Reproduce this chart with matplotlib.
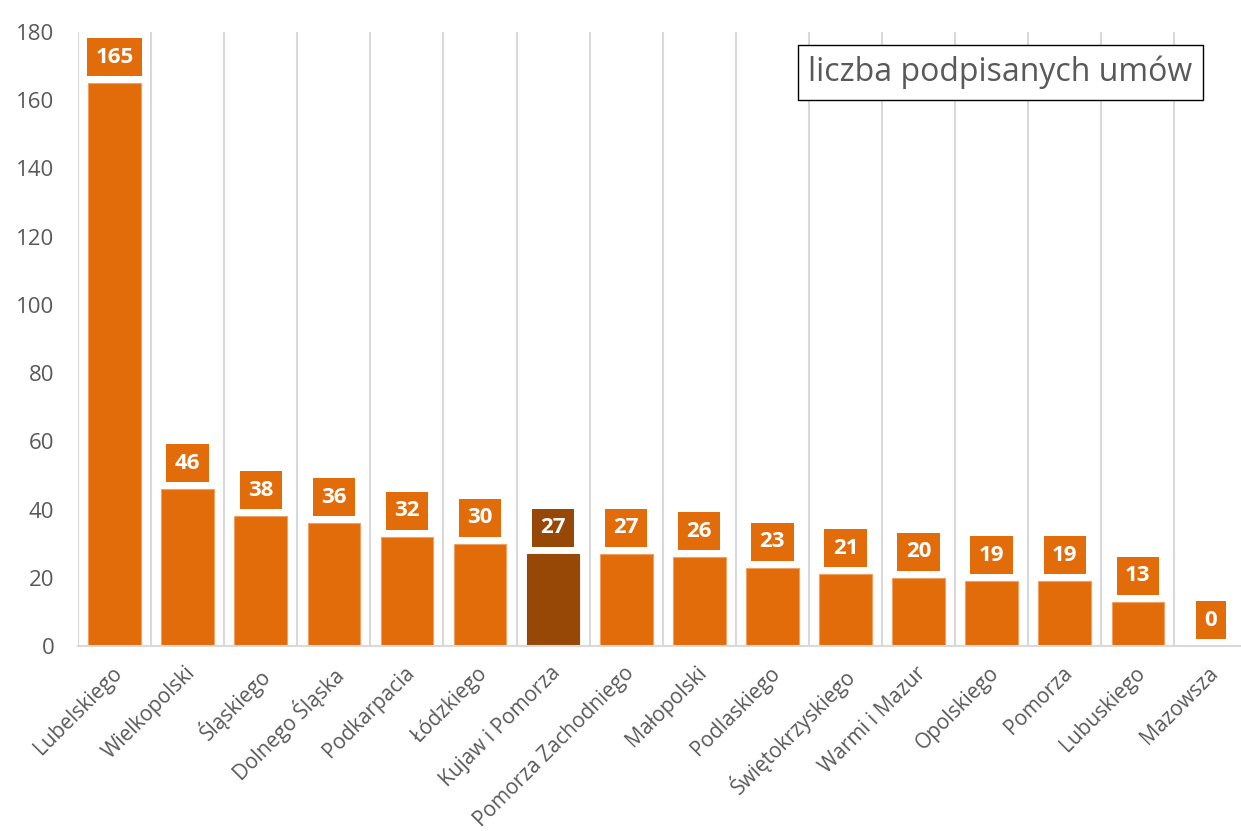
import matplotlib
matplotlib.use("Agg")
import matplotlib.pyplot as plt
from matplotlib.transforms import ScaledTranslation

categories = ["Lubelskiego", "Wielkopolski", "Śląskiego", "Dolnego Śląska", "Podkarpacia",
              "Łódzkiego", "Kujaw i Pomorza", "Pomorza Zachodniego", "Małopolski", "Podlaskiego",
              "Świętokrzyskiego", "Warmi i Mazur", "Opolskiego", "Pomorza", "Lubuskiego", "Mazowsza"]
values = [165, 46, 38, 36, 32, 30, 27, 27, 26, 23, 21, 20, 19, 19, 13, 0]
highlight = "Kujaw i Pomorza"
legend_label = "liczba podpisanych umów"
yticks = [0, 20, 40, 60, 80, 100, 120, 140, 160, 180]

ORANGE = "#E36C0A"
DARK = "#974706"
GRAY = "#595959"
GRID = "#D9D9D9"

plt.rcParams['font.family'] = ['Open Sans', 'DejaVu Sans']

fig = plt.figure(figsize=(12.41, 8.31), dpi=100)
W, H = 1241, 831
ax = fig.add_axes([78 / W, 1 - 646 / H, (1247.5 - 78) / W, (646 - 32) / H])

n = len(categories)
x = list(range(n))
colors = [DARK if c == highlight else ORANGE for c in categories]
ax.bar(x, values, width=0.72, color=colors,
       edgecolor=[("#F0A060" if c == ORANGE else DARK) for c in colors],
       linewidth=0.8, zorder=3)

ax.set_xlim(-0.5, n - 0.5)
ax.set_ylim(0, 180)

for b in range(n):
    ax.axvline(b - 0.5, color=GRID, lw=1.5, zorder=1)

for s in ["left", "right", "top"]:
    ax.spines[s].set_visible(False)
ax.spines["bottom"].set_color(GRID)
ax.spines["bottom"].set_linewidth(1.5)
ax.spines["bottom"].set_zorder(4)

ax.set_yticks(yticks)
ax.set_yticklabels([str(v) for v in yticks], fontsize=16, color=GRAY)
ax.tick_params(axis="y", length=0, pad=17)
ax.set_xticks(x)
ax.set_xticklabels(categories, rotation=45, ha="right", va="top", rotation_mode="anchor",
                   fontsize=15, color=GRAY)
ax.tick_params(axis="x", length=0, pad=12)
shift = ScaledTranslation(-3 / 100, 0, fig.dpi_scale_trans)
for lbl in ax.get_xticklabels():
    lbl.set_transform(lbl.get_transform() + shift)

for i, (v, c) in enumerate(zip(values, colors)):
    ax.annotate(str(v), xy=(i, v), xytext=(0, 18.7), textcoords="offset points",
                ha="center", va="center", fontsize=16, fontweight="bold", color="white",
                bbox=dict(boxstyle="square,pad=0.38", fc=c, ec="none"), zorder=5)

fig.text(1000.5 / W, 1 - 72.5 / H, legend_label, ha="center", va="center", fontsize=23, color=GRAY,
         bbox=dict(boxstyle="square,pad=0.33", fc="white", ec="black", lw=1))

fig.savefig("out.png", dpi=100)
